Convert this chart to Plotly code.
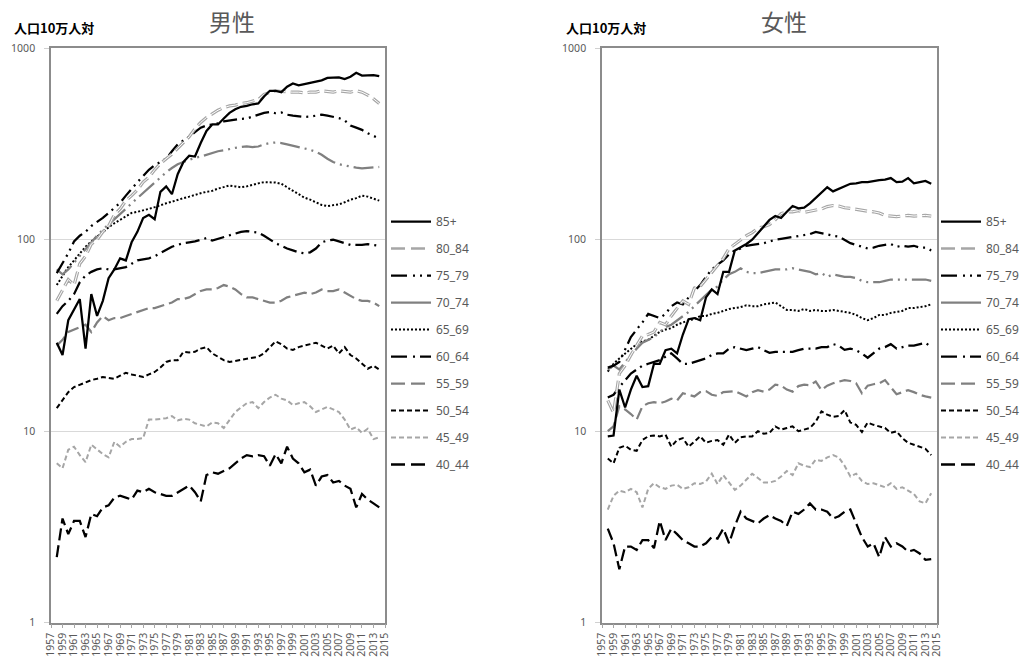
import plotly.graph_objects as go

# Years plotted (one value per year) and age-group names
YEARS = list(range(1958, 2015))
AGE_GROUPS = ["85+", "80_84", "75_79", "70_74", "65_69", "60_64", "55_59", "50_54", "45_49", "40_44"]
TICK_YEARS = list(range(1957, 2016, 2))
Y_TICKS = [1, 10, 100, 1000]

# ---- male rates (per 100k population) ----
male_85 = [29, 25, 38, 43, 49, 27, 52, 40, 48, 63,
           70, 80, 78, 97, 110, 130, 135, 128, 178, 190,
           173, 220, 255, 275, 272, 320, 370, 400, 400, 430,
           460, 480, 495, 500, 510, 515, 560, 600, 600, 590,
           630, 655, 640, 650, 660, 675, 680, 700, 700, 705,
           690, 710, 745, 720, 722, 725, 715]
male_80_84 = [48, 55, 62, 58, 75, 82, 95, 100, 110, 118,
              135, 145, 160, 170, 182, 200, 212, 232, 250, 265,
              280, 300, 320, 345, 380, 410, 435, 455, 475, 490,
              500, 505, 515, 520, 530, 540, 575, 590, 600, 595,
              590, 590, 590, 585, 590, 590, 600, 595, 590, 600,
              595, 590, 600, 590, 570, 545, 515]
male_75_79 = [67, 75, 85, 98, 105, 110, 118, 124, 130, 138,
              147, 156, 170, 185, 200, 215, 232, 245, 255, 265,
              290, 315, 330, 345, 365, 385, 395, 400, 405, 415,
              420, 425, 428, 430, 440, 450, 460, 465, 458, 462,
              450, 445, 440, 438, 440, 445, 450, 445, 438, 432,
              420, 395, 385, 375, 360, 348, 338]
male_70_74 = [70, 66, 70, 76, 82, 89, 97, 105, 113, 120,
              128, 136, 145, 155, 165, 175, 188, 200, 212, 225,
              237, 248, 255, 262, 268, 272, 278, 285, 290, 293,
              298, 302, 305, 307, 305, 307, 315, 320, 322, 320,
              315, 310, 305, 300, 295, 288, 278, 265, 255, 248,
              244, 240, 238, 236, 237, 238, 240]
male_65_69 = [58, 65, 72, 78, 85, 92, 98, 104, 110, 116,
              122, 127, 132, 138, 140, 142, 145, 148, 152, 155,
              158, 162, 165, 168, 172, 175, 178, 180, 185, 188,
              192, 190, 188, 190, 194, 197, 200, 200, 199, 196,
              188, 180, 173, 166, 162, 157, 152, 150, 151, 153,
              157, 162, 165, 170, 168, 164, 160]
male_60_64 = [41, 45, 48, 52, 60, 65, 68, 70, 71, 70,
              70, 71, 72, 75, 78, 79, 80, 82, 85, 89,
              92, 94, 96, 97, 98, 100, 102, 99, 101, 103,
              106, 108, 110, 111, 110, 109, 105, 100, 96, 93,
              90, 88, 86, 85, 86, 90, 97, 99, 100, 98,
              96, 94, 94, 94, 95, 94, 93]
male_55_59 = [28, 30, 33, 34, 35, 36, 33, 37, 40, 38,
              39, 39, 40, 41, 42, 43, 44, 44, 45, 46,
              47, 49, 49, 50, 52, 54, 55, 55, 56, 58,
              57, 55, 52, 50, 50, 49, 48, 47, 47, 48,
              50, 51, 52, 53, 52, 53, 55, 54, 54, 55,
              53, 51, 49, 48, 48, 47, 45]
male_50_54 = [13.2, 14.5, 16, 17, 17.5, 18, 18.5, 18.8, 19.2, 19,
              18.8, 19.5, 20.2, 19.8, 19.5, 19.2, 19.8, 20.4, 21.5, 23,
              23.5, 23.5, 26, 25.8, 26, 27, 27.5, 25.5, 24.5, 23.5,
              23, 23.3, 23.5, 23.8, 24, 24.5, 25.5, 27.5, 29.5, 28.5,
              27, 26.6, 27.5, 28, 28.5, 29, 28, 27, 28, 25.5,
              27.5, 25, 24, 22.5, 21.2, 22, 21]
male_45_49 = [6.8, 6.4, 8.0, 8.3, 7.5, 6.9, 8.5, 8.0, 7.6, 7.3,
              8.8, 8.3, 8.8, 9.1, 9.1, 9.2, 11.5, 11.5, 11.6, 11.7,
              12.0, 11.4, 11.6, 11.5, 11.0, 10.8, 10.6, 11.1, 11.0, 10.4,
              11.5, 12.6, 13.3, 14.0, 14.2, 13.2, 14.2, 15.0, 15.5, 14.8,
              14.5, 13.7, 14.0, 14.2, 13.5, 12.6, 13.0, 13.4, 13.0, 12.6,
              11.5, 10.2, 10.5, 9.8, 10.3, 9.1, 9.3]
male_40_44 = [2.2, 3.5, 2.9, 3.4, 3.4, 2.8, 3.7, 3.6, 4.0, 4.1,
              4.5, 4.6, 4.5, 4.4, 4.9, 4.8, 5.0, 4.8, 4.7, 4.6,
              4.6, 4.8, 5.0, 5.2, 4.8, 4.3, 5.9, 6.1, 6.0, 6.2,
              6.4, 6.8, 7.2, 7.5, 7.4, 7.5, 7.4, 6.6, 7.6, 6.8,
              8.3, 7.2, 6.8, 6.1, 6.3, 5.2, 5.8, 5.9, 5.4, 5.5,
              5.2, 5.0, 4.0, 4.7, 4.4, 4.2, 4.0]

# ---- female rates (per 100k population) ----
female_85 = [9.4, 9.5, 16.5, 13.3, 16.5, 19.5, 17, 17.2, 22.5, 22.5,
             26.5, 27, 25.5, 32, 38.5, 39, 38, 50, 55, 52,
             68, 68, 88, 91, 95, 100, 108, 118, 127, 133,
             130, 140, 150, 146, 147, 155, 165, 177, 188, 179,
             185, 190, 196, 197, 200, 200, 203, 205, 206, 210,
             200, 201, 210, 197, 200, 203, 196]
female_80_84 = [14.5, 12.5, 20, 22, 25, 28, 31.5, 32, 33, 37,
                36, 40, 44, 48, 46, 56, 57, 62, 68, 73,
                80, 90, 95, 100, 105, 109, 115, 117, 120, 127,
                137, 140, 140, 142, 139, 141, 143, 145, 149, 151,
                150, 147, 146, 144, 142, 141, 140, 138, 134, 133,
                132, 133, 134, 133, 134, 134, 133]
female_75_79 = [21.5, 22, 23, 27, 31, 34, 37, 41, 40, 39,
                41, 45, 47, 46, 50, 54, 58, 64, 70, 74,
                78, 84, 88, 90, 93, 94, 95, 96, 98, 100,
                101, 102, 103, 104, 105, 107, 110, 108, 106, 105,
                104, 100, 96, 94, 92, 90, 91, 93, 94, 95,
                92, 93, 92, 93, 91, 91, 88]
female_70_74 = [21, 22, 21, 23, 25, 27, 29, 30, 31, 33,
                35, 36, 38, 40, 42, 45, 48, 51, 55, 57,
                62, 66, 68, 71, 68, 67, 67, 68, 69, 70,
                70, 70, 71, 70, 69, 68, 66, 67, 64, 66,
                65, 64, 64, 63, 61, 60, 60, 60, 61, 62,
                62, 62, 62, 62, 62, 62, 61]
female_65_69 = [20.5, 22.5, 24, 25.5, 27, 28.5, 29.5, 30, 31.5, 33,
                34, 34.5, 36, 37, 38, 38.5, 40, 40, 41, 41.5,
                42.5, 43.5, 44, 44.5, 45.5, 45, 45, 46, 46.5, 47,
                45, 43, 43, 42.5, 43.5, 42.5, 43, 42.5, 42.5, 43,
                42.5, 42, 41.5, 40.5, 39, 38, 39, 40.5, 40.5, 41.5,
                42, 42.5, 44, 44, 44.5, 45, 46]
female_60_64 = [15, 15.5, 17, 18.5, 20, 21, 22, 22.5, 23, 23.5,
                24.5, 25.5, 24, 22.5, 22.5, 23, 23.5, 24, 25, 25.5,
                25.5, 27, 27.5, 27, 26.5, 27, 27.5, 26.5, 25.7, 26,
                26, 25.8, 26, 26.5, 27, 27, 27, 27.5, 27.5, 28.5,
                28, 26.6, 27, 26.5, 25.5, 24.2, 25.5, 27, 27.5, 28.5,
                27, 27.5, 28, 28, 28.5, 29, 27.5]
female_55_59 = [10, 10.6, 13.5, 13, 12.3, 11.5, 13.5, 14, 14.2, 14,
                14.3, 14.8, 14.5, 15.8, 15.5, 15.2, 16, 16.2, 15.5, 15.3,
                16, 16.1, 16.2, 15.7, 15.2, 16, 16.4, 16.1, 16.5, 17.5,
                17.3, 16.5, 16.1, 17.2, 17.5, 17.4, 18.2, 16.4, 17.3, 17.8,
                18.2, 18.5, 18.3, 17.8, 15.8, 17.3, 17.6, 17.8, 18.5, 17.1,
                15.6, 16, 16.4, 16, 15.5, 15.2, 15]
female_50_54 = [7.2, 6.8, 8.2, 8.4, 8.0, 7.9, 9.0, 9.4, 9.5, 9.4,
                9.6, 8.3, 9.0, 9.2, 8.3, 8.8, 9.4, 8.7, 8.9, 9.0,
                8.5, 9.6, 8.7, 9.3, 9.4, 9.4, 10.0, 9.7, 9.8, 10.6,
                10.2, 10.4, 10.6, 10.0, 10.2, 10.4, 11.2, 12.7, 12.2, 11.9,
                12.0, 12.9, 11.1, 10.8, 9.9, 11.1, 10.8, 10.6, 10.4, 9.8,
                10.0, 9.2, 8.7, 8.5, 8.3, 8.1, 7.5]
female_45_49 = [3.9, 4.6, 4.9, 4.8, 5.0, 4.8, 4.0, 5.0, 5.35, 5.1,
                5.0, 5.2, 5.25, 5.0, 5.1, 5.35, 5.3, 5.46, 6.0, 5.3,
                5.9, 5.4, 4.94, 5.2, 5.57, 6.0, 5.7, 5.4, 5.4, 5.5,
                5.8, 6.2, 5.9, 6.8, 6.6, 6.5, 7.1, 7.0, 7.3, 7.5,
                7.3, 6.6, 5.8, 6.0, 5.5, 5.3, 5.35, 5.2, 5.1, 5.35,
                5.0, 5.1, 4.9, 4.7, 4.3, 4.2, 4.75]
female_40_44 = [3.1, 2.6, 1.9, 2.5, 2.5, 2.4, 2.7, 2.7, 2.45, 3.4,
                2.7, 3.1, 2.9, 2.7, 2.6, 2.5, 2.5, 2.6, 2.8, 2.75,
                3.1, 2.6, 3.2, 3.8, 3.5, 3.4, 3.3, 3.5, 3.65, 3.5,
                3.4, 3.2, 3.8, 3.7, 3.9, 4.2, 3.9, 3.9, 3.8, 3.5,
                3.6, 3.8, 3.9, 3.3, 2.8, 2.5, 2.6, 2.2, 2.8, 2.5,
                2.6, 2.5, 2.35, 2.4, 2.3, 2.13, 2.15]

MALE = [male_85, male_80_84, male_75_79, male_70_74, male_65_69,
        male_60_64, male_55_59, male_50_54, male_45_49, male_40_44]
FEMALE = [female_85, female_80_84, female_75_79, female_70_74, female_65_69,
          female_60_64, female_55_59, female_50_54, female_45_49, female_40_44]

# ---- line styles ----
BLACK, GREY, LIGHT = "#000000", "#808080", "#a6a6a6"
STYLES = {
    "85+":   dict(color=BLACK, width=2.25, dash="solid"),
    "80_84": dict(color=LIGHT, width=3.2, dash="12px,5px"),
    "75_79": dict(color=BLACK, width=2.25, dash="14px,5px,2px,5px,2px,5px"),
    "70_74": dict(color=GREY, width=2.25, dash="20px,5px,2px,5px,2px,5px"),
    "65_69": dict(color=BLACK, width=2, dash="2px,2px"),
    "60_64": dict(color=BLACK, width=2.25, dash="14px,5px,2px,5px"),
    "55_59": dict(color=GREY, width=2.25, dash="12px,5px"),
    "50_54": dict(color=BLACK, width=2, dash="5px,3px"),
    "45_49": dict(color=LIGHT, width=2, dash="5px,3px"),
    "40_44": dict(color=BLACK, width=2.25, dash="12px,5px"),
}
# legend samples that differ from the plotted pattern
LEGEND_STYLES = dict(STYLES)
LEGEND_STYLES["70_74"] = dict(color=GREY, width=2.25, dash="solid")
LEGEND_STYLES["80_84"] = dict(color=LIGHT, width=2.5, dash="14px,6px")
LEGEND_STYLES["75_79"] = dict(color=BLACK, width=2.25, dash="16px,6px,2px,5px,2px,5px")
LEGEND_STYLES["60_64"] = dict(color=BLACK, width=2.25, dash="16px,6px,2px,5px")
LEGEND_STYLES["55_59"] = dict(color=GREY, width=2.25, dash="14px,6px")
LEGEND_STYLES["40_44"] = dict(color=BLACK, width=2.5, dash="14px,6px")

W, H = 1032, 661
TXT = "#595959"
FONT = "Noto Sans, Noto Sans CJK JP, sans-serif"
CJK = "Noto Sans CJK JP, sans-serif"

fig = go.Figure()

panels = [
    ("x", "y", "legend", MALE, "m"),
    ("x2", "y2", "legend2", FEMALE, "f"),
]
for xa, ya, leg, data, tag in panels:
    # plotted series (drawn bottom group first so upper lines sit on top)
    for name, values in reversed(list(zip(AGE_GROUPS, data))):
        st = STYLES[name]
        grp = f"{tag}_{name}"
        fig.add_trace(go.Scatter(
            x=YEARS, y=values, mode="lines", name=name, legendgroup=grp,
            showlegend=False, xaxis=xa, yaxis=ya,
            line=dict(color=st["color"], width=st["width"], dash=st["dash"]),
        ))
        if name == "80_84":
            # white core gives the double-stroke look
            fig.add_trace(go.Scatter(
                x=YEARS, y=values, mode="lines", name=name, legendgroup=grp,
                showlegend=False, xaxis=xa, yaxis=ya, hoverinfo="skip",
                line=dict(color="#ffffff", width=1, dash=st["dash"]),
            ))
    # legend entries
    for name in AGE_GROUPS:
        st = LEGEND_STYLES[name]
        fig.add_trace(go.Scatter(
            x=[None], y=[None], mode="lines", name=name,
            legendgroup=f"{tag}_{name}", legend=leg, xaxis=xa, yaxis=ya,
            line=dict(color=st["color"], width=st["width"], dash=st["dash"]),
        ))

PLOT_TOP, PLOT_BOTTOM = 48.3, 622.7
ydom = [(H - PLOT_BOTTOM) / H, (H - PLOT_TOP) / H]

xcommon = dict(
    range=[1957, 2015], tickmode="array", tickvals=TICK_YEARS,
    ticktext=[str(y) for y in TICK_YEARS], tickangle=-90,
    ticks="outside", ticklen=4, tickcolor="#a6a6a6", tickwidth=1,
    showline=True, linecolor="#8c8c8c", linewidth=1.5, mirror=True,
    showgrid=False, zeroline=False, automargin=False,
    tickfont=dict(family=FONT, size=10.5, color=TXT),
)
ycommon = dict(
    type="log", range=[0, 3], tickmode="array", tickvals=Y_TICKS,
    ticktext=[str(v) for v in Y_TICKS],
    ticks="outside", ticklen=5, tickcolor="#d0d0d0", tickwidth=1,
    showline=True, linecolor="#8c8c8c", linewidth=1.5, mirror=True,
    showgrid=True, gridcolor="#d9d9d9", gridwidth=1, zeroline=False,
    ticklabelstandoff=7, automargin=False,
    tickfont=dict(family=FONT, size=10.5, color=TXT),
)

legcommon = dict(
    xanchor="left", yanchor="top", bgcolor="rgba(0,0,0,0)",
    font=dict(family=FONT, size=12, color=TXT),
    tracegroupgap=8, itemwidth=40, traceorder="grouped",
    itemclick=False, itemdoubleclick=False,
)

fig.update_layout(
    width=W, height=H, margin=dict(l=0, r=0, t=0, b=0, autoexpand=False),
    paper_bgcolor="#ffffff", plot_bgcolor="#ffffff",
    xaxis=dict(domain=[51 / W, 385 / W], anchor="y", **xcommon),
    yaxis=dict(domain=ydom, anchor="x", **ycommon),
    xaxis2=dict(domain=[602 / W, 937 / W], anchor="y2", **xcommon),
    yaxis2=dict(domain=ydom, anchor="x2", **ycommon),
    legend=dict(x=386 / W, y=(H - 207) / H, **legcommon),
    legend2=dict(x=936 / W, y=(H - 207) / H, **legcommon),
    showlegend=True,
)

titles = [("男性", 232), ("女性", 784)]
for text, cx in titles:
    fig.add_annotation(
        text=text, x=cx / W, y=(H - 21) / H, xref="paper", yref="paper",
        xanchor="center", yanchor="middle", showarrow=False,
        font=dict(family=CJK, size=23, color=TXT),
    )
for lx in (12, 564):
    fig.add_annotation(
        text="<b>人口10万人対</b>", x=lx / W, y=(H - 28) / H, xref="paper", yref="paper",
        xanchor="left", yanchor="middle", showarrow=False,
        font=dict(family=CJK, size=13, color="#000000"),
    )

fig.write_html("out.html")
